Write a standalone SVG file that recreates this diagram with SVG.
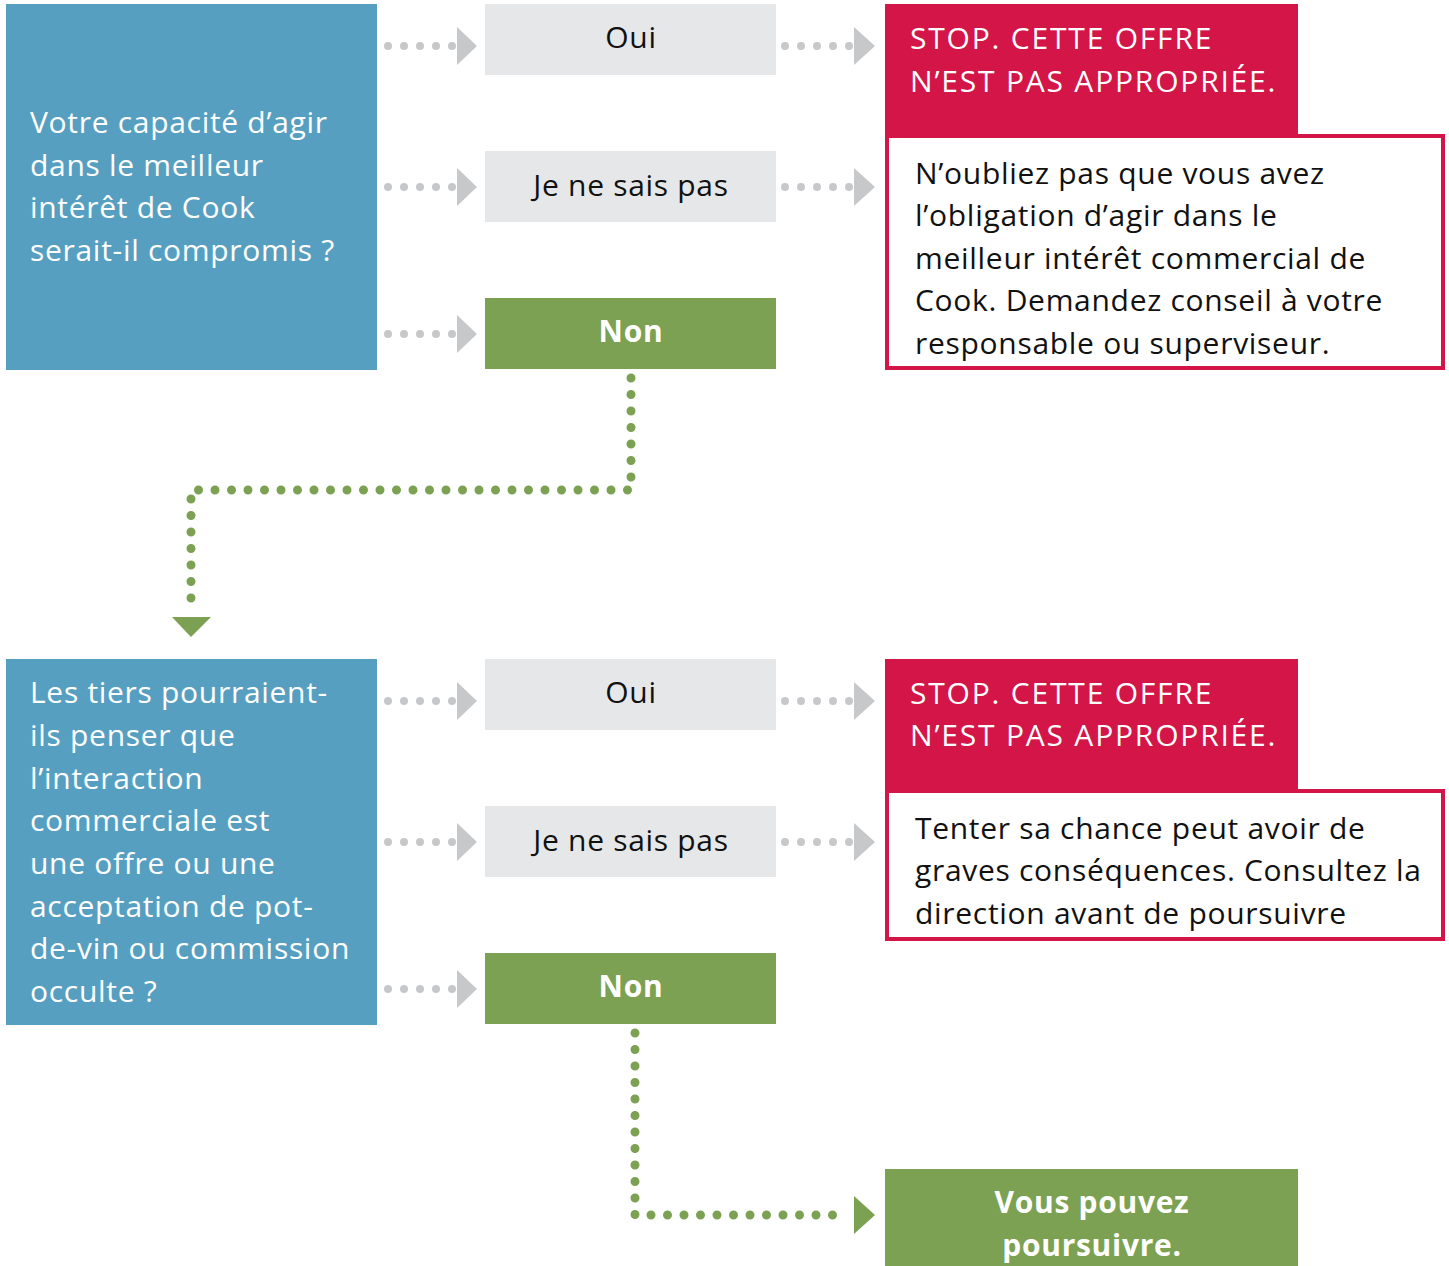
<svg xmlns="http://www.w3.org/2000/svg" width="1449" height="1266" viewBox="0 0 1449 1266">
<style>
.q{fill:#579fc1}
.opt{fill:#e6e7e9}
.go{fill:#7ca153}
.stop{fill:#d31548}
.note{fill:#fff;stroke:#d31548;stroke-width:4}
text{font-family:"Open Sans",Lato,"Liberation Sans",sans-serif;font-size:30px;letter-spacing:0.7px}
.hd{letter-spacing:1.8px}
.wt{fill:#fff}
.bk{fill:#111}
.b{font-weight:bold}
.c{text-anchor:middle}
.gd{stroke:#c7c8ca;stroke-width:8;stroke-linecap:round;stroke-dasharray:0 16;fill:none}
.gn{stroke:#7ca153;stroke-width:9;stroke-linecap:round;stroke-dasharray:0 16.5;fill:none}
.gt{fill:#c7c8ca}
.gnt{fill:#7ca153}
</style>
<rect width="1449" height="1266" fill="#fff"/>
<g id="connectors">
<path class="gd" d="M388 46H453M388 187H453M388 334H453M388 701H453M388 842H453M388 989H453"/>
<path class="gt" d="M457 27L477 46L457 65ZM457 168L477 187L457 206ZM457 315L477 334L457 353ZM457 682L477 701L457 720ZM457 823L477 842L457 861ZM457 970L477 989L457 1008Z"/>
<path class="gd" d="M785 46H850M785 187H850M785 701H850M785 842H850"/>
<path class="gt" d="M854 27L875 46L854 65ZM854 168L875 187L854 206ZM854 682L875 701L854 720ZM854 823L875 842L854 861Z"/>
<path class="gn" d="M631 378V490H191V608"/>
<path class="gnt" d="M172 617H211L191 637Z"/>
<path class="gn" d="M635 1033V1215H847"/>
<path class="gnt" d="M854 1196L875 1215L854 1234Z"/>
</g>
<g id="q1">
<rect class="q" x="6" y="4" width="371" height="366"/>
<text class="wt" x="30"><tspan x="30" y="133">Votre capacité d’agir</tspan><tspan x="30" y="176">dans le meilleur</tspan><tspan x="30" y="218">intérêt de Cook</tspan><tspan x="30" y="261">serait-il compromis ?</tspan></text>
</g>
<g id="q1-oui"><rect class="opt" x="485" y="4" width="291" height="71"/><text class="bk c" x="631" y="48">Oui</text></g>
<g id="q1-jnsp"><rect class="opt" x="485" y="151" width="291" height="71"/><text class="bk c" x="631" y="196">Je ne sais pas</text></g>
<g id="q1-non"><rect class="go" x="485" y="298" width="291" height="71"/><text class="wt c b" x="631" y="342">Non</text></g>
<g id="stop1">
<rect class="note" x="887" y="136" width="556" height="232"/>
<rect class="stop" x="885" y="4" width="413" height="130"/>
<text class="wt hd"><tspan x="910" y="49">STOP. CETTE OFFRE</tspan><tspan x="910" y="92">N’EST PAS APPROPRIÉE.</tspan></text>
<text class="bk"><tspan x="915" y="184">N’oubliez pas que vous avez</tspan><tspan x="915" y="226">l’obligation d’agir dans le</tspan><tspan x="915" y="269">meilleur intérêt commercial de</tspan><tspan x="915" y="311">Cook. Demandez conseil à votre</tspan><tspan x="915" y="354">responsable ou superviseur.</tspan></text>
</g>
<g id="q2">
<rect class="q" x="6" y="659" width="371" height="366"/>
<text class="wt"><tspan x="30" y="703">Les tiers pourraient-</tspan><tspan x="30" y="746">ils penser que</tspan><tspan x="30" y="789">l’interaction</tspan><tspan x="30" y="831">commerciale est</tspan><tspan x="30" y="874">une offre ou une</tspan><tspan x="30" y="917">acceptation de pot-</tspan><tspan x="30" y="959">de-vin ou commission</tspan><tspan x="30" y="1002">occulte ?</tspan></text>
</g>
<g id="q2-oui"><rect class="opt" x="485" y="659" width="291" height="71"/><text class="bk c" x="631" y="703">Oui</text></g>
<g id="q2-jnsp"><rect class="opt" x="485" y="806" width="291" height="71"/><text class="bk c" x="631" y="851">Je ne sais pas</text></g>
<g id="q2-non"><rect class="go" x="485" y="953" width="291" height="71"/><text class="wt c b" x="631" y="997">Non</text></g>
<g id="stop2">
<rect class="note" x="887" y="791" width="556" height="148"/>
<rect class="stop" x="885" y="659" width="413" height="130"/>
<text class="wt hd"><tspan x="910" y="704">STOP. CETTE OFFRE</tspan><tspan x="910" y="746">N’EST PAS APPROPRIÉE.</tspan></text>
<text class="bk"><tspan x="915" y="839">Tenter sa chance peut avoir de</tspan><tspan x="915" y="881">graves conséquences. Consultez la</tspan><tspan x="915" y="924">direction avant de poursuivre</tspan></text>
</g>
<g id="go">
<rect class="go" x="885" y="1169" width="413" height="97"/>
<text class="wt c b"><tspan x="1092" y="1213">Vous pouvez</tspan><tspan x="1092" y="1256">poursuivre.</tspan></text>
</g>
</svg>
